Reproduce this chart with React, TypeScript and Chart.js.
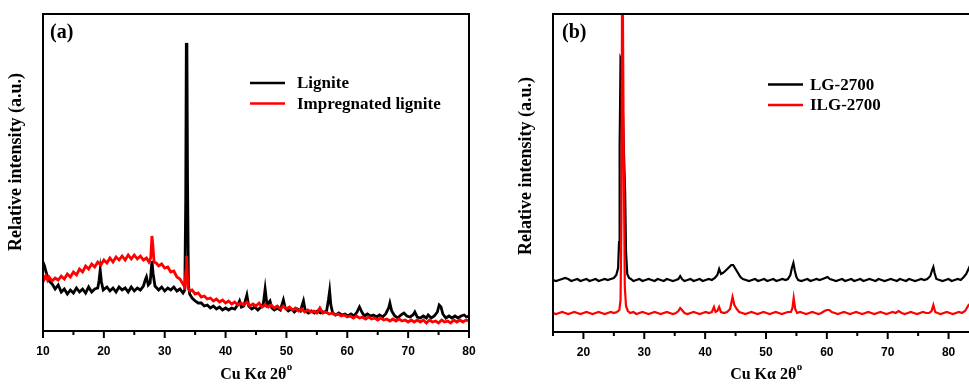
import React, { useEffect, useRef } from 'react';
import { Chart, registerables } from 'chart.js';
Chart.register(...registerables);

type Pt = [number, number];

// ---------- axis ticks ----------
const xTicksA = [10, 20, 30, 40, 50, 60, 70, 80];
const xMinorA = [15, 25, 35, 45, 55, 65, 75];
const xTicksB = [20, 30, 40, 50, 60, 70, 80];
const xMinorB = [15, 25, 35, 45, 55, 65, 75, 85];

// ---------- legends ----------
const legendA = ['Lignite', 'Impregnated lignite'];
const legendB = ['LG-2700', 'ILG-2700'];

// ---------- panel (a): [2θ, relative intensity] ----------
const lignite: Pt[] = [
  [10,69],[10.25,65],[10.5,59],[10.75,54],[11,50],[11.5,47],[12,42],[12.5,46],[13,39],[13.5,42],[14,37],[14.5,41],
  [15,38],[15.5,43],[16,39],[16.5,42],[17,38],[17.5,44],[18,39],[18.5,42],[19,43],[19.2,50],[19.4,61],[19.6,49],
  [19.9,41],[20.5,44],[21,40],[21.5,43],[22,39],[22.5,44],[23,41],[23.5,43],[24,39],[24.5,44],[25,40],[25.5,43],
  [26,41],[26.5,45],[26.8,51],[27,54],[27.3,46],[27.6,48],[27.9,70],[28.1,57],[28.4,45],[29,41],[29.5,44],[30,40],
  [30.5,43],[31,41],[31.5,44],[32,40],[32.5,42],[33,38],[33.3,41],[33.45,131],[33.55,288],[33.65,283],[33.75,151],
  [33.9,46],[34.1,37],[34.5,33],[35,30],[35.5,28],[36,28],[36.5,25],[37,26],[37.5,23],[38,25],[38.5,22],[39,24],
  [39.5,21],[40,23],[40.5,21],[41,23],[41.5,22],[42,26],[42.3,30],[42.6,24],[43,25],[43.5,36],[43.8,25],[44.3,22],
  [44.8,24],[45.3,21],[45.8,24],[46.2,27],[46.5,42],[46.8,26],[47.3,30],[47.6,23],[48,21],[48.5,23],[49,21],
  [49.5,31],[49.8,23],[50.3,20],[50.8,22],[51.3,19],[51.8,22],[52.3,20],[52.8,30],[53.1,20],[53.6,18],[54.1,20],
  [54.6,18],[55.1,20],[55.6,18],[56.1,19],[56.6,20],[56.9,31],[57.1,40],[57.3,26],[57.6,18],[58.1,16],[58.6,18],
  [59.1,16],[59.6,17],[60.1,15],[60.6,17],[61.1,15],[61.6,19],[62,24],[62.4,19],[62.8,15],[63.3,17],[63.8,15],
  [64.3,16],[64.8,14],[65.3,16],[65.8,14],[66.3,17],[66.8,23],[67,28],[67.3,20],[67.8,15],[68.3,13],[68.8,16],
  [69.3,18],[69.8,15],[70.3,14],[70.8,16],[71.1,19],[71.5,14],[72,13],[72.5,15],[73,13],[73.3,16],[73.8,13],
  [74.3,15],[74.8,19],[75.1,26],[75.4,24],[75.7,17],[76.2,13],[76.7,15],[77.2,13],[77.7,15],[78.2,13],[78.7,15],
  [79.2,16],[79.6,14],[80,15],
];

const impregnated: Pt[] = [
  [10,56],[10.25,52],[10.5,55],[10.75,51],[11,54],[11.5,50],[12,53],[12.5,51],[13,55],[13.5,52],[14,57],[14.5,54],
  [15,59],[15.5,56],[16,62],[16.5,59],[17,65],[17.5,62],[18,67],[18.5,64],[19,69],[19.5,66],[20,71],[20.5,68],
  [21,73],[21.5,69],[22,74],[22.5,71],[23,75],[23.5,71],[24,76],[24.5,72],[25,76],[25.5,72],[26,75],[26.5,71],
  [27,73],[27.4,69],[27.7,73],[27.9,95],[28.05,86],[28.25,69],[28.6,68],[29,65],[29.5,67],[30,63],[30.5,64],
  [31,59],[31.5,60],[32,54],[32.5,52],[33,47],[33.3,44],[33.5,61],[33.6,75],[33.7,59],[33.85,43],[34.1,40],
  [34.5,41],[35,37],[35.5,38],[36,34],[36.5,35],[37,32],[37.5,33],[38,30],[38.5,32],[39,29],[39.5,31],[40,28],
  [40.5,30],[41,27],[41.5,29],[42,26],[42.5,28],[43,26],[43.5,29],[44,25],[44.5,27],[45,25],[45.5,28],[46,24],
  [46.5,26],[47,24],[47.5,26],[48,23],[48.5,25],[49,22],[49.5,25],[50,22],[50.5,24],[51,21],[51.5,23],[52,20],
  [52.5,22],[53,19],[53.5,21],[54,19],[54.5,20],[55,18],[55.5,23],[56,18],[56.5,19],[57,17],[57.5,18],[58,16],
  [58.5,17],[59,15],[59.5,16],[60,14],[60.5,15],[61,13],[61.5,15],[62,13],[62.5,14],[63,12],[63.5,14],[64,12],
  [64.5,13],[65,11],[65.5,13],[66,11],[66.5,12],[67,10],[67.5,12],[68,10],[68.5,12],[69,10],[69.5,11],[70,9],
  [70.5,11],[71,9],[71.5,11],[72,9],[72.5,11],[73,8],[73.5,11],[74,9],[74.5,10],[75,8],[75.5,11],[76,9],
  [76.5,10],[77,8],[77.5,11],[78,9],[78.5,11],[79,9],[79.5,11],[80,10],
];

// ---------- panel (b): [2θ, relative intensity] ----------
const lg2700: Pt[] = [
  [15,52],[15.5,51],[16,52],[16.5,53],[17,54],[17.5,53],[18,51],[18.5,52],[19,53],[19.5,51],[20,52],[20.5,53],
  [21,51],[21.5,52],[22,53],[22.5,51],[23,52],[23.5,53],[24,52],[24.5,53],[25,54],[25.4,57],[25.7,64],[25.85,90],
  [25.95,185],[26.1,274],[26.25,272],[26.45,230],[26.7,170],[26.85,140],[27,80],[27.2,58],[27.5,54],[27.8,53],
  [28.2,51],[28.7,52],[29.2,53],[29.7,51],[30.2,52],[30.7,53],[31.2,52],[31.7,51],[32.2,53],[32.7,52],[33.2,51],
  [33.7,53],[34.2,52],[34.7,51],[35.2,52],[35.6,53],[35.9,56],[36.2,53],[36.6,51],[37.1,52],[37.6,53],[38.1,51],
  [38.6,52],[39.1,53],[39.6,51],[40.1,52],[40.6,53],[41.1,52],[41.6,54],[42,57],[42.3,63],[42.6,58],[42.9,59],
  [43.3,61],[43.8,64],[44.3,67],[44.6,67],[45,63],[45.4,59],[45.8,55],[46.2,53],[46.7,52],[47.2,51],[47.7,52],
  [48.2,53],[48.7,51],[49.2,52],[49.7,53],[50.2,51],[50.7,52],[51.2,53],[51.7,51],[52.2,52],[52.7,53],[53.2,52],
  [53.6,53],[54,57],[54.25,64],[54.5,69],[54.75,61],[55,55],[55.3,52],[55.8,51],[56.3,52],[56.8,53],[57.3,51],
  [57.8,52],[58.3,53],[58.8,52],[59.3,53],[59.7,54],[60.1,55],[60.5,53],[61,52],[61.5,51],[62,52],[62.5,53],
  [63,51],[63.5,52],[64,53],[64.5,51],[65,52],[65.5,53],[66,51],[66.5,52],[67,53],[67.5,52],[68,51],[68.5,53],
  [69,52],[69.5,51],[70,52],[70.5,53],[71,52],[71.5,51],[72,53],[72.5,52],[73,51],[73.5,53],[74,52],[74.5,51],
  [75,52],[75.5,53],[76,52],[76.5,53],[77,56],[77.3,62],[77.5,65],[77.7,59],[78,53],[78.5,52],[79,51],[79.5,52],
  [80,53],[80.5,51],[81,52],[81.5,53],[82,52],[82.5,55],[82.9,58],[83.2,62],[83.5,66],[84,60],[84.5,54],[85,52],
];

const ilg2700: Pt[] = [
  [15,19],[15.5,18],[16,19],[16.5,20],[17,19],[17.5,18],[18,19],[18.5,20],[19,19],[19.5,18],[20,19],[20.5,20],
  [21,19],[21.5,18],[22,19],[22.5,20],[23,19],[23.5,18],[24,19],[24.5,20],[25,19],[25.5,20],[25.9,22],[26.1,32],
  [26.25,112],[26.38,430],[26.5,430],[26.65,150],[26.8,45],[27,26],[27.3,21],[27.7,19],[28.2,20],[28.7,18],
  [29.2,19],[29.7,20],[30.2,19],[30.7,18],[31.2,19],[31.7,20],[32.2,19],[32.7,18],[33.2,19],[33.7,20],[34.2,19],
  [34.7,18],[35.2,19],[35.6,21],[35.9,24],[36.2,22],[36.6,19],[37.1,18],[37.6,19],[38.1,20],[38.6,19],[39.1,18],
  [39.6,19],[40.1,20],[40.6,19],[41.1,20],[41.45,25],[41.7,20],[42,21],[42.3,25],[42.6,20],[43.1,19],[43.6,20],
  [44.1,23],[44.5,35],[44.8,27],[45.2,23],[45.6,20],[46.1,19],[46.6,18],[47.1,19],[47.6,20],[48.1,19],[48.6,18],
  [49.1,19],[49.6,20],[50.1,19],[50.6,18],[51.1,19],[51.6,20],[52.1,19],[52.6,18],[53.1,19],[53.6,20],[54.1,20],
  [54.35,24],[54.55,34],[54.8,23],[55.1,19],[55.6,20],[56.1,19],[56.6,18],[57.1,19],[57.6,20],[58.1,19],[58.6,18],
  [59.1,19],[59.6,21],[60,22],[60.4,22],[60.8,20],[61.3,19],[61.8,18],[62.3,19],[62.8,20],[63.3,19],[63.8,18],
  [64.3,19],[64.8,20],[65.3,19],[65.8,18],[66.3,19],[66.8,20],[67.3,19],[67.8,18],[68.3,19],[68.8,20],[69.3,19],
  [69.8,18],[70.3,19],[70.8,20],[71.3,19],[71.8,21],[72.3,19],[72.8,18],[73.3,19],[73.8,20],[74.3,19],[74.8,18],
  [75.3,19],[75.8,20],[76.3,19],[76.8,19],[77.2,21],[77.5,27],[77.8,20],[78.2,19],[78.7,18],[79.2,19],[79.7,20],
  [80.2,19],[80.7,18],[81.2,19],[81.7,20],[82.2,19],[82.7,21],[83,24],[83.3,27],[83.6,26],[84,21],[84.5,19],[85,19],
];

const SERIF = '"Liberation Serif", "Times New Roman", serif';
const SANS = '"Liberation Sans", Arial, sans-serif';
const BLACK = '#000000';
const RED = '#ff0000';

interface PanelCfg {
  tag: string;
  legend: string[];
  legendLine: [number, number];
  legendTextX: number;
  legendY: [number, number];
  tagX: number;
  yTitle: [number, number];
  major: number[];
  minor: number[];
}

function decorPlugin(p: PanelCfg) {
  return {
    id: 'decor' + p.tag,
    afterDraw(chart: any) {
      const { ctx, chartArea: a, scales } = chart;
      const xs = scales.x;
      ctx.save();
      ctx.strokeStyle = '#000';
      ctx.lineWidth = 2;
      ctx.strokeRect(a.left, a.top, a.right - a.left, a.bottom - a.top);
      ctx.beginPath();
      for (const v of p.major) {
        const x = xs.getPixelForValue(v);
        ctx.moveTo(x, a.bottom);
        ctx.lineTo(x, a.bottom + 7);
      }
      for (const v of p.minor) {
        const x = xs.getPixelForValue(v);
        ctx.moveTo(x, a.bottom);
        ctx.lineTo(x, a.bottom + 4);
      }
      ctx.stroke();

      ctx.fillStyle = '#000';
      // x title
      const main = 'Cu K\u03b1 2\u03b8';
      ctx.font = `bold 16px ${SERIF}`;
      const w1 = ctx.measureText(main).width;
      ctx.font = `bold 11px ${SERIF}`;
      const w2 = ctx.measureText('o').width;
      const cx = (a.left + a.right) / 2;
      const x0 = cx - (w1 + w2) / 2;
      ctx.textAlign = 'left';
      ctx.textBaseline = 'alphabetic';
      ctx.font = `bold 16px ${SERIF}`;
      ctx.fillText(main, x0, 379);
      ctx.font = `bold 11px ${SERIF}`;
      ctx.fillText('o', x0 + w1 + 0.5, 370);

      // y title
      ctx.save();
      ctx.translate(p.yTitle[0], p.yTitle[1]);
      ctx.rotate(-Math.PI / 2);
      ctx.font = `bold 18px ${SERIF}`;
      ctx.textAlign = 'center';
      ctx.textBaseline = 'middle';
      ctx.fillText('Relative intensity (a.u.)', 0, 0);
      ctx.restore();

      // panel tag
      ctx.font = `bold 20px ${SERIF}`;
      ctx.textAlign = 'left';
      ctx.textBaseline = 'middle';
      ctx.fillText(p.tag, p.tagX, 33);

      // legend
      chart.data.datasets.forEach((ds: any, i: number) => {
        const y = p.legendY[i];
        ctx.strokeStyle = ds.borderColor;
        ctx.lineWidth = 2.5;
        ctx.beginPath();
        ctx.moveTo(p.legendLine[0], y);
        ctx.lineTo(p.legendLine[1], y);
        ctx.stroke();
        ctx.fillStyle = '#000';
        ctx.font = `bold 17px ${SERIF}`;
        ctx.textAlign = 'left';
        ctx.textBaseline = 'middle';
        ctx.fillText(p.legend[i], p.legendTextX, y + 1);
      });
      ctx.restore();
    },
  };
}

function makeChart(
  canvas: HTMLCanvasElement,
  series: { name: string; pts: Pt[]; color: string; order: number }[],
  xMin: number,
  xMax: number,
  yMax: number,
  padLeft: number,
  padRight: number,
  bottomH: number,
  lineW: number,
  cfg: PanelCfg,
) {
  return new Chart(canvas, {
    type: 'line',
    data: {
      datasets: series.map((s) => ({
        label: s.name,
        data: s.pts.map(([x, y]) => ({ x, y })),
        borderColor: s.color,
        backgroundColor: s.color,
        borderWidth: lineW,
        pointRadius: 0,
        tension: 0,
        fill: false,
        order: s.order,
      })),
    },
    options: {
      animation: false,
      responsive: false,
      maintainAspectRatio: false,
      events: [],
      layout: { padding: { left: padLeft, right: padRight, top: 14, bottom: 0 } },
      plugins: { legend: { display: false }, tooltip: { enabled: false } },
      scales: {
        x: {
          type: 'linear',
          min: xMin,
          max: xMax,
          afterBuildTicks: (s: any) => {
            s.ticks = cfg.major.map((v) => ({ value: v }));
          },
          afterFit: (s: any) => {
            s.height = bottomH;
          },
          grid: { display: false, drawTicks: false },
          border: { display: false },
          ticks: {
            color: '#000',
            font: { family: SANS, size: 12, weight: 'bold' },
            padding: 13,
            maxRotation: 0,
            autoSkip: false,
          },
        },
        y: { display: false, min: 0, max: yMax },
      },
    } as any,
    plugins: [decorPlugin(cfg)],
  });
}

export default function App() {
  const refA = useRef<HTMLCanvasElement>(null);
  const refB = useRef<HTMLCanvasElement>(null);

  useEffect(() => {
    const a = makeChart(
      refA.current!,
      [
        { name: legendA[0], pts: lignite, color: BLACK, order: 1 },
        { name: legendA[1], pts: impregnated, color: RED, order: 0 },
      ],
      10, 80, 317, 43, 21, 54, 2.8,
      {
        tag: '(a)', legend: legendA, legendLine: [250, 285], legendTextX: 297, legendY: [83, 103.5],
        tagX: 50, yTitle: [16, 162], major: xTicksA, minor: xMinorA,
      },
    );
    const b = makeChart(
      refB.current!,
      [
        { name: legendB[0], pts: lg2700, color: BLACK, order: 1 },
        { name: legendB[1], pts: ilg2700, color: RED, order: 0 },
      ],
      15, 85, 318, 63, 21, 53, 2.2,
      {
        tag: '(b)', legend: legendB, legendLine: [278, 313], legendTextX: 320, legendY: [84.5, 105],
        tagX: 72, yTitle: [36, 166], major: xTicksB, minor: xMinorB,
      },
    );
    return () => {
      a.destroy();
      b.destroy();
    };
  }, []);

  return (
    <div style={{ position: 'absolute', left: 0, top: 0, width: 969, height: 385, overflow: 'hidden', background: '#fff' }}>
      <canvas ref={refA} width={490} height={385} style={{ position: 'absolute', left: 0, top: 0, width: 490, height: 385 }} />
      <canvas ref={refB} width={510} height={385} style={{ position: 'absolute', left: 490, top: 0, width: 510, height: 385 }} />
    </div>
  );
}
